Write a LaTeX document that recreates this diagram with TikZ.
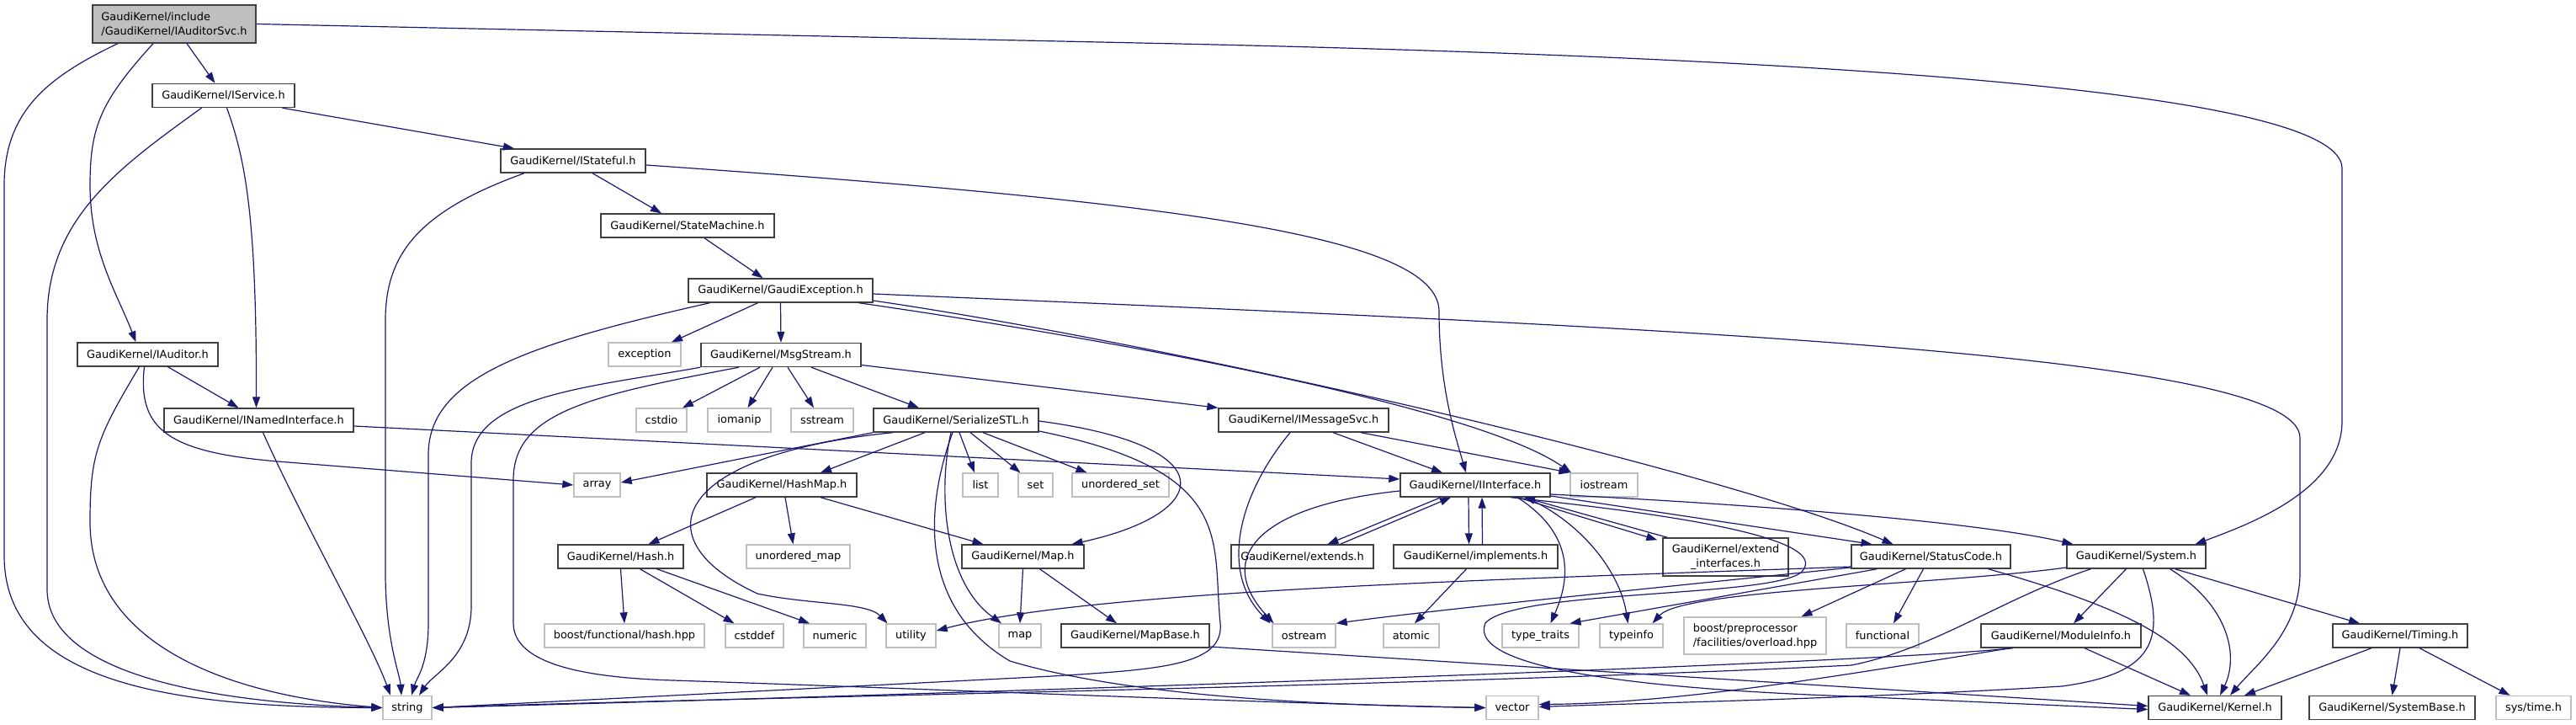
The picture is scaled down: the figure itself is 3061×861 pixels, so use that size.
\documentclass[tikz,border=0pt]{standalone}
\usepackage{fontspec}
\setmainfont{DejaVu Sans}
\usetikzlibrary{arrows.meta}
\definecolor{edgeblue}{HTML}{191970}
\tikzset{
  file/.style={draw=black!75, fill=white, line width=1.4pt, minimum height=28pt, inner xsep=4pt, inner ysep=2pt, font=\fontsize{12.9}{17}\selectfont},
  lib/.style={file, draw=black!25},
  root/.style={file, fill=black!25, align=left},
  dep/.style={-{Triangle[length=13pt,width=9pt]}, draw=edgeblue, line width=1.2pt}
}
\begin{document}
\begin{tikzpicture}[x=1pt, y=-1pt]
  \useasboundingbox (0,0) rectangle (3061,861);

  \node[root, minimum width=194pt, minimum height=45pt] (root) at (207,28.5) {GaudiKernel/include\\/GaudiKernel/IAuditorSvc.h};
  \node[file, minimum width=169pt] (svc) at (265.5,113.5) {GaudiKernel/IService.h};
  \node[file, minimum width=172pt] (stf) at (681,191) {GaudiKernel/IStateful.h};
  \node[file, minimum width=206pt] (stm) at (817,268) {GaudiKernel/StateMachine.h};
  \node[file, minimum width=219pt] (gex) at (927.5,345) {GaudiKernel/GaudiException.h};
  \node[lib, minimum width=86pt] (exc) at (766,421) {exception};
  \node[file, minimum width=190pt] (msg) at (928,421.5) {GaudiKernel/MsgStream.h};
  \node[file, minimum width=167pt] (aud) at (175.5,421) {GaudiKernel/IAuditor.h};
  \node[file, minimum width=225pt] (nif) at (307.5,499) {GaudiKernel/INamedInterface.h};
  \node[lib, minimum width=60pt] (csd) at (786,499) {cstdio};
  \node[lib, minimum width=75pt] (iom) at (878.5,499) {iomanip};
  \node[lib, minimum width=74pt] (sst) at (977,499) {sstream};
  \node[file, minimum width=196pt] (ser) at (1136,499) {GaudiKernel/SerializeSTL.h};
  \node[file, minimum width=202pt] (ims) at (1549,499) {GaudiKernel/IMessageSvc.h};
  \node[lib, minimum width=55pt] (arr) at (709.5,576) {array};
  \node[file, minimum width=178pt] (hmp) at (929,576) {GaudiKernel/HashMap.h};
  \node[lib, minimum width=42pt] (lst) at (1165,576) {list};
  \node[lib, minimum width=41pt] (sett) at (1230.5,576) {set};
  \node[lib, minimum width=115pt] (uos) at (1331.5,576) {unordered\_set};
  \node[file, minimum width=178pt] (ifc) at (1753,576) {GaudiKernel/IInterface.h};
  \node[lib, minimum width=80pt] (ios) at (1906,576) {iostream};
  \node[file, minimum width=149pt] (hsh) at (737.5,661) {GaudiKernel/Hash.h};
  \node[lib, minimum width=123pt] (uom) at (948.5,661) {unordered\_map};
  \node[file, minimum width=145pt] (mp) at (1215.5,661) {GaudiKernel/Map.h};
  \node[file, minimum width=169pt] (ext) at (1547.5,661) {GaudiKernel/extends.h};
  \node[file, minimum width=195pt] (imp) at (1753.5,661) {GaudiKernel/implements.h};
  \node[file, minimum width=149pt, minimum height=45pt, align=center] (exi) at (2050.5,661.5) {GaudiKernel/extend\\\_interfaces.h};
  \node[file, minimum width=189pt] (stc) at (2294.5,661) {GaudiKernel/StatusCode.h};
  \node[file, minimum width=165pt] (sysh) at (2538.5,661) {GaudiKernel/System.h};
  \node[lib, minimum width=190pt] (bfh) at (742,755) {boost/functional/hash.hpp};
  \node[lib, minimum width=69pt] (csf) at (896.5,755) {cstddef};
  \node[lib, minimum width=74pt] (num) at (992,755) {numeric};
  \node[lib, minimum width=59pt] (utl) at (1082.5,755) {utility};
  \node[lib, minimum width=50pt] (mpp) at (1212,755) {map};
  \node[file, minimum width=176pt] (mpb) at (1349,755) {GaudiKernel/MapBase.h};
  \node[lib, minimum width=75pt] (ost) at (1549.5,755) {ostream};
  \node[lib, minimum width=66pt] (atm) at (1677,755) {atomic};
  \node[lib, minimum width=91pt] (ttr) at (1830.5,755) {type\_traits};
  \node[lib, minimum width=75pt] (tpi) at (1938.5,755) {typeinfo};
  \node[lib, minimum width=169pt, minimum height=44pt, align=left] (bpp) at (2085.5,755) {boost/preprocessor\\/facilities/overload.hpp};
  \node[lib, minimum width=86pt] (fun) at (2237,755) {functional};
  \node[file, minimum width=190pt] (mod) at (2449,755) {GaudiKernel/ModuleInfo.h};
  \node[file, minimum width=160pt] (tim) at (2852,755) {GaudiKernel/Timing.h};
  \node[lib, minimum width=58pt] (str) at (484,840.5) {string};
  \node[lib, minimum width=62pt] (vec) at (1797,840.5) {vector};
  \node[file, minimum width=158pt] (ker) at (2632,840.5) {GaudiKernel/Kernel.h};
  \node[file, minimum width=197pt] (sbs) at (2842.5,840.5) {GaudiKernel/SystemBase.h};
  \node[lib, minimum width=89pt] (stime) at (3010.5,840.5) {sys/time.h};

  \draw[dep] ([xshift=15pt]root.south) -- ([xshift=-10pt]svc.north);
  \draw[dep] ([xshift=-25pt]root.south) .. controls (120,120) and (107,150) .. (107,220) .. controls (107,300) and (140,350) .. ([xshift=-14pt]aud.north);
  \draw[dep] ([xshift=-67pt]root.south) .. controls (60,90) and (5,130) .. (5,220) -- (5,660) .. controls (5,810) and (200,840) .. (str.west);
  \draw[dep] (root.east) -- (1400,52) .. controls (2200,70) and (2783,110) .. (2783,200) -- (2783,500) .. controls (2783,580) and (2680,620) .. ([xshift=70pt]sysh.north);

  \draw[dep] ([xshift=-26pt]svc.south) .. controls (140,200) and (56,260) .. (56,380) -- (56,700) .. controls (56,800) and (250,835) .. (str.west);
  \draw[dep] ([xshift=4pt]svc.south) .. controls (292,190) and (305,260) .. ([xshift=-3pt]nif.north);
  \draw[dep] ([xshift=70pt]svc.south) -- ([xshift=-70pt]stf.north);

  \draw[dep] ([xshift=-58pt]stf.south) .. controls (500,250) and (458,300) .. (458,380) -- (458,680) .. controls (458,760) and (475,800) .. ([xshift=-7pt]str.north);
  \draw[dep] ([xshift=23pt]stf.south) -- ([xshift=-31pt]stm.north);
  \draw[dep] ([yshift=-5pt]stf.east) .. controls (1400,240) and (1710,280) .. (1710,370) .. controls (1710,460) and (1730,520) .. ([xshift=-11pt]ifc.north);

  \draw[dep] ([xshift=20pt]stm.south) -- ([xshift=-21pt]gex.north);

  \draw[dep] ([xshift=-27pt]gex.south) -- ([xshift=32pt]exc.north);
  \draw[dep] (gex.south) -- (msg.north);
  \draw[dep] ([xshift=-84pt]gex.south) .. controls (620,410) and (509,450) .. (509,540) -- (509,740) .. controls (509,790) and (495,805) .. ([xshift=5pt]str.north);
  \draw[dep] ([xshift=93pt]gex.south) .. controls (1300,400) and (1750,480) .. ([xshift=-39pt]ios.north);
  \draw[dep] ([yshift=-12pt]gex.east) .. controls (1400,410) and (2050,560) .. ([xshift=-45pt]stc.north);
  \draw[dep] ([yshift=-4pt]gex.east) .. controls (2000,390) and (2733,420) .. (2733,520) -- (2733,680) .. controls (2733,750) and (2680,790) .. ([xshift=18pt]ker.north);

  \draw[dep] (msg.south west) .. controls (700,460) and (560,470) .. (560,550) -- (560,720) .. controls (560,780) and (515,800) .. ([xshift=14pt]str.north);
  \draw[dep] ([xshift=-50pt]msg.south) .. controls (700,470) and (610,490) .. (610,570) -- (610,740) .. controls (610,790) and (700,805) .. (800,808) .. controls (1100,818) and (1500,835) .. (vec.west);
  \draw[dep] ([xshift=-25pt]msg.south) -- ([xshift=25pt]csd.north);
  \draw[dep] ([xshift=-10pt]msg.south) -- ([xshift=10pt]iom.north);
  \draw[dep] ([xshift=8pt]msg.south) -- ([xshift=-10pt]sst.north);
  \draw[dep] ([xshift=36pt]msg.south) -- ([xshift=-44pt]ser.north);
  \draw[dep] ([yshift=-12pt]msg.east) -- (ims.north west);

  \draw[dep] ([xshift=24pt]aud.south) -- ([xshift=-24pt]nif.north);
  \draw[dep] ([xshift=-10pt]aud.south) .. controls (115,520) and (107,540) .. (107,620) .. controls (107,760) and (260,825) .. (str.west);
  \draw[dep] ([xshift=-4pt]aud.south) .. controls (163,510) and (200,537) .. (330,548) -- (arr.west);

  \draw[dep] ([xshift=5pt]nif.south) .. controls (360,620) and (440,760) .. ([xshift=-20pt]str.north);
  \draw[dep] ([yshift=-7pt]nif.east) -- ([yshift=7pt]ifc.west);

  \draw[dep] (ser.south west) -- ([yshift=3pt]arr.east);
  \draw[dep] ([xshift=-75pt]ser.south) .. controls (800,540) and (760,640) .. (900,705) .. controls (960,718) and (1030,715) .. ([xshift=-28pt]utl.north);
  \draw[dep] ([xshift=-37pt]ser.south) -- ([xshift=46pt]hmp.north);
  \draw[dep] ([xshift=-6pt]ser.south) .. controls (1115,580) and (1120,690) .. ([xshift=-22pt]mpp.north);
  \draw[dep] ([xshift=-4pt]ser.south) .. controls (1100,600) and (1090,720) .. (1200,785) .. controls (1350,830) and (1600,838) .. (vec.west);
  \draw[dep] ([xshift=4pt]ser.south) -- ([xshift=-7pt]lst.north);
  \draw[dep] ([xshift=17pt]ser.south) -- ([xshift=-18pt]sett.north);
  \draw[dep] ([xshift=32pt]ser.south) -- ([xshift=-40pt]uos.north);
  \draw[dep] ([yshift=-1pt]ser.east) .. controls (1460,530) and (1440,610) .. ([xshift=58pt]mp.north);
  \draw[dep] ([yshift=-13pt]ser.east) .. controls (1470,560) and (1440,640) .. (1450,740) .. controls (1455,790) and (1380,795) .. (1250,803) -- (str.east);

  \draw[dep] ([xshift=-31pt]hmp.south) -- ([xshift=33pt]hsh.north);
  \draw[dep] ([xshift=4pt]hmp.south) -- ([xshift=-6pt]uom.north);
  \draw[dep] ([xshift=46pt]hmp.south) -- ([xshift=-47pt]mp.north);

  \draw[dep] (hsh.south) -- (bfh.north);
  \draw[dep] ([xshift=23pt]hsh.south) -- ([xshift=-24pt]csf.north);
  \draw[dep] ([xshift=43pt]hsh.south) -- ([xshift=-30pt]num.north);

  \draw[dep] (mp.south) -- (mpp.north);
  \draw[dep] ([xshift=20pt]mp.south) -- ([xshift=-22pt]mpb.north);
  \draw[dep] ([yshift=-13pt]mpb.east) -- ([yshift=2pt]ker.west);

  \draw[dep] ([xshift=35pt]ims.south) -- ([xshift=-39pt]ifc.north);
  \draw[dep] ([xshift=68pt]ims.south) -- (ios.north west);
  \draw[dep] ([xshift=-16pt]ims.south) .. controls (1470,590) and (1450,680) .. ([xshift=-40pt]ost.north);

  \draw[dep] ([yshift=-7pt]ifc.west) .. controls (1500,600) and (1440,660) .. ([xshift=-36pt]ost.north);
  \draw[dep] ([xshift=-41pt]ifc.south) -- ([xshift=30pt]ext.north);
  \draw[dep] ([xshift=45pt]ext.north) -- ([xshift=-29pt]ifc.south);
  \draw[dep] ([xshift=-8pt]ifc.south) -- ([xshift=-8pt]imp.north);
  \draw[dep] ([xshift=8pt]imp.north) -- ([xshift=8pt]ifc.south);
  \draw[dep] ([xshift=50pt]ifc.south) -- ([xshift=-6pt,yshift=-3pt]exi.north west);
  \draw[dep] ([xshift=6pt]exi.north west) -- ([xshift=58pt]ifc.south);
  \draw[dep] ([xshift=50pt]ifc.south) .. controls (1880,640) and (1860,700) .. ([xshift=12pt]ttr.north);
  \draw[dep] ([xshift=60pt]ifc.south) .. controls (1880,620) and (1925,680) .. ([xshift=-4pt]tpi.north);
  \draw[dep] ([yshift=-13pt]ifc.east) -- ([xshift=-70pt]stc.north);
  \draw[dep] ([yshift=-11pt]ifc.east) .. controls (2100,600) and (2350,620) .. ([xshift=-75pt]sysh.north);
  \draw[dep] ([xshift=42pt]ifc.south) .. controls (2080,620) and (2170,650) .. (2140,680) .. controls (2100,710) and (1800,700) .. (1765,740) .. controls (1740,800) and (2000,820) .. (2200,827) -- ([yshift=-2pt]ker.west);

  \draw[dep] ([xshift=-11pt]imp.south) -- ([xshift=4pt]atm.north);

  \draw[dep] ([yshift=-12pt]stc.west) .. controls (1800,688) and (1300,700) .. ([yshift=6pt]utl.east);
  \draw[dep] ([yshift=-13pt]stc.west) .. controls (1900,705) and (1700,725) .. (ost.north east);
  \draw[dep] ([xshift=-64pt]stc.south) -- ([xshift=35pt]ttr.north);
  \draw[dep] ([xshift=-30pt]stc.south) -- ([xshift=55pt]bpp.north);
  \draw[dep] ([xshift=-9pt]stc.south) -- ([xshift=13pt]fun.north);
  \draw[dep] ([xshift=68pt]stc.south) .. controls (2520,720) and (2600,760) .. ([xshift=-9pt]ker.north);

  \draw[dep] ([yshift=-13pt]sysh.west) .. controls (2300,695) and (2000,700) .. ([xshift=25pt]tpi.north);
  \draw[dep] ([xshift=-54pt]sysh.south) .. controls (2380,710) and (2300,770) .. (2200,790) .. controls (1700,815) and (800,830) .. (str.east);
  \draw[dep] ([xshift=8pt]sysh.south) .. controls (2575,760) and (2560,800) .. (2450,815) .. controls (2200,830) and (1950,835) .. ([yshift=1pt]vec.east);
  \draw[dep] ([xshift=-12pt]sysh.south) -- ([xshift=15pt]mod.north);
  \draw[dep] ([xshift=40pt]sysh.south) .. controls (2650,720) and (2660,780) .. ([xshift=6pt]ker.north);
  \draw[dep] ([xshift=46pt]sysh.south) -- ([xshift=-48pt]tim.north);

  \draw[dep] ([xshift=-57pt]mod.south) .. controls (2200,790) and (1000,828) .. (str.east);
  \draw[dep] ([xshift=-60pt]mod.south) .. controls (2200,800) and (2000,835) .. ([yshift=4pt]vec.east);
  \draw[dep] ([xshift=28pt]mod.south) -- ([xshift=-29pt]ker.north);

  \draw[dep] ([xshift=-34pt]tim.south) -- ([xshift=35pt]ker.north);
  \draw[dep] (tim.south) -- (sbs.north);
  \draw[dep] ([xshift=23pt]tim.south) -- ([xshift=-28pt]stime.north);
\end{tikzpicture}
\end{document}
